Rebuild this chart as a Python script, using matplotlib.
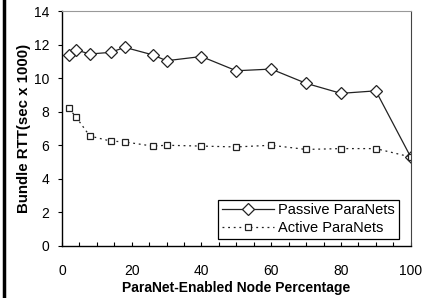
import matplotlib
matplotlib.use("Agg")
import matplotlib.pyplot as plt
from matplotlib.lines import Line2D
from matplotlib.ticker import MultipleLocator

plt.rcParams['font.family'] = ['Liberation Sans', 'DejaVu Sans']

pct = [2, 4, 8, 14, 18, 26, 30, 40, 50, 60, 70, 80, 90, 100]
passive = [11.4, 11.7, 11.45, 11.55, 11.85, 11.4, 11.05, 11.3, 10.45, 10.55, 9.7, 9.1, 9.25, 5.3]
active = [8.2, 7.7, 6.55, 6.25, 6.2, 5.95, 6.0, 5.95, 5.9, 6.0, 5.75, 5.8, 5.8, 5.3]

fig = plt.figure(figsize=(4.33, 2.98), dpi=100)
ax = fig.add_axes([0.143, 0.1755, 0.8055, 0.7865])

ax.plot(pct, passive, color='#222222', linewidth=0.9, linestyle='-',
        marker='D', markersize=6, markerfacecolor='white', markeredgecolor='#222222',
        markeredgewidth=0.9, label='Passive ParaNets')
ax.plot(pct, active, color='#222222', linewidth=0.9, linestyle=(0, (1.5, 3)),
        marker='s', markersize=5, markerfacecolor='white', markeredgecolor='#222222',
        markeredgewidth=0.9, label='Active ParaNets')

ax.set_xlim(0, 100)
ax.set_ylim(0, 14)
ax.xaxis.set_major_locator(MultipleLocator(20))
ax.xaxis.set_minor_locator(MultipleLocator(5))
ax.yaxis.set_major_locator(MultipleLocator(2))
ax.tick_params(axis='x', which='both', direction='in', length=3, width=0.8, pad=13, labelsize=10)
ax.tick_params(axis='y', which='major', direction='out', length=3, width=0.8, pad=6, labelsize=10)

for side in ('left', 'bottom'):
    ax.spines[side].set_color('black')
    ax.spines[side].set_linewidth(1.0)
ax.spines['top'].set_color('#999999')
ax.spines['right'].set_color('#444444')

ax.set_xlabel('ParaNet-Enabled Node Percentage', fontsize=10, fontweight='bold', labelpad=2)
ax.set_ylabel('Bundle RTT(sec x 1000)', fontsize=10.8, fontweight='bold', labelpad=2)

leg = ax.legend(loc='lower right', bbox_to_anchor=(0.966, 0.03), fontsize=10.5, frameon=True,
                fancybox=False, framealpha=1, edgecolor='black', handlelength=3.6,
                handletextpad=0.3, borderpad=0.25, labelspacing=0.25, borderaxespad=0.0)
leg.get_frame().set_linewidth(0.9)

fig.add_artist(Line2D([0.009, 0.009], [0, 1], transform=fig.transFigure, color='black', linewidth=2.5))

fig.savefig('out.png', dpi=100)
